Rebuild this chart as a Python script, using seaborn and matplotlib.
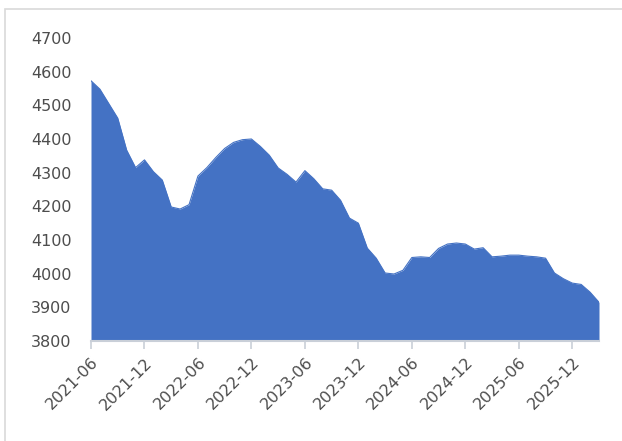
import matplotlib
matplotlib.use("Agg")
import matplotlib.pyplot as plt
import seaborn as sns
import pandas as pd
import numpy as np
from matplotlib.patches import Rectangle

# ---- data (monthly, 2021-06 .. 2026-03) ----
months = pd.period_range("2021-06", "2026-03", freq="M").strftime("%Y-%m").tolist()
values = [4573, 4548, 4505, 4462, 4367, 4315, 4338, 4303, 4278, 4198,
          4192, 4205, 4290, 4315, 4345, 4372, 4390, 4398, 4400, 4378,
          4352, 4314, 4295, 4272, 4306, 4282, 4252, 4248, 4218, 4165,
          4150, 4076, 4046, 4002, 3999, 4010, 4048, 4050, 4048, 4075,
          4088, 4091, 4088, 4073, 4077, 4050, 4052, 4055, 4055, 4052,
          4050, 4046, 4002, 3985, 3972, 3968, 3945, 3915]
tick_labels = ["2021-06", "2021-12", "2022-06", "2022-12", "2023-06",
               "2023-12", "2024-06", "2024-12", "2025-06", "2025-12"]
y_ticks = [3800, 3900, 4000, 4100, 4200, 4300, 4400, 4500, 4600, 4700]

df = pd.DataFrame({"month": months, "value": values})
df["idx"] = np.arange(len(df))

sns.set_theme(style="white")
plt.rcParams["font.family"] = ["DejaVu Sans"]

W, H = 622, 441
fig = plt.figure(figsize=(W / 100, H / 100), dpi=100)
ax = fig.add_axes([91 / W, 1 - 341 / H, (599 - 91) / W, (341 - 38) / H])

fill_color = "#4472C4"
sns.lineplot(data=df, x="idx", y="value", ax=ax, color=fill_color, linewidth=0.8)
ax.fill_between(df["idx"], df["value"], 3800, color=fill_color, linewidth=0)

ax.set_xlim(0, len(df) - 1)
ax.set_ylim(3800, 4700)
ax.set_yticks(y_ticks)
ax.set_yticklabels([str(v) for v in y_ticks])
tick_pos = [months.index(t) for t in tick_labels]
ax.set_xticks(tick_pos)
ax.set_xticklabels(tick_labels, rotation=45, ha="right", rotation_mode="anchor")
ax.set_xlabel("")
ax.set_ylabel("")

for s in ["top", "right", "left"]:
    ax.spines[s].set_visible(False)
ax.spines["bottom"].set_color("#C9CFD8")
ax.spines["bottom"].set_linewidth(1.5)

text_color = "#4D4D4D"
ax.tick_params(axis="x", which="both", bottom=True, length=6, width=1.2,
               color="#C9CFD8", labelsize=11.5, labelcolor=text_color, pad=4)
ax.tick_params(axis="y", left=False, labelsize=11.5, labelcolor=text_color, pad=8)

# outer frame of the chart area
fig.patches.append(Rectangle((5 / W, -0.1), 1.2, 1 - 9 / H + 0.1,
                             transform=fig.transFigure, fill=False,
                             edgecolor="#D9D9D9", linewidth=1.2))

fig.savefig("out.png", dpi=100)
